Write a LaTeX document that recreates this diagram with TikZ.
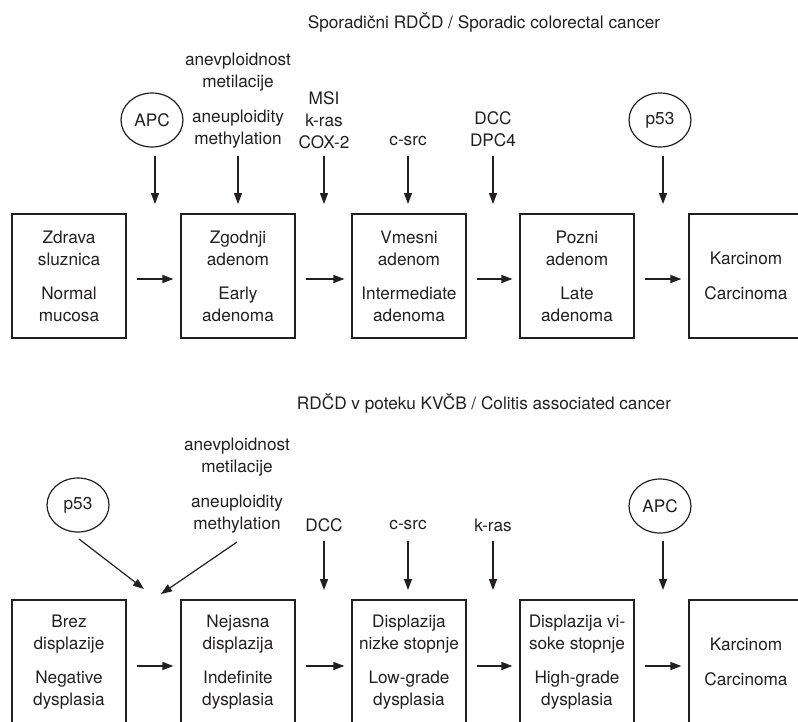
\documentclass[tikz,border=0pt]{standalone}
\usepackage{fontspec}
\setmainfont{TeX Gyre Heros}
\usetikzlibrary{shapes.geometric,arrows.meta}
\definecolor{ink}{HTML}{231F20}
\begin{document}
\begin{tikzpicture}[x=1pt,y=-1pt,
 every node/.style={font=\fontsize{17.2}{22}\selectfont, text=ink},
 stage/.style={draw=ink, line width=1.2pt, minimum width=114pt, minimum height=124pt, align=center, inner sep=0pt},
 gene/.style={draw=ink, ellipse, line width=1.2pt, minimum width=62pt, minimum height=54pt, inner sep=0pt},
 lbl/.style={align=center, inner sep=0pt},
 arr/.style={draw=ink, -{Triangle[length=11pt,width=8pt]}, line width=1.2pt}]
\fill[white] (0,0) rectangle (798,721);
\clip (0,0) rectangle (798,721);
% ---------- top: sporadic ----------
\node[lbl] (title1) at (484,22) {Sporadični RDČD / Sporadic colorectal cancer};
\node[stage] (a1) at (69,276) {Zdrava\\sluznica\\[12pt]Normal\\mucosa};
\node[stage] (a2) at (238,276) {Zgodnji\\adenom\\[12pt]Early\\adenoma};
\node[stage] (a3) at (409,276) {Vmesni\\adenom\\[12pt]Intermediate\\adenoma};
\node[stage] (a4) at (577,276) {Pozni\\adenom\\[12pt]Late\\adenoma};
\node[stage] (a5) at (746,276) {Karcinom\\[13pt]Carcinoma};
\node[gene] (apc1) at (152,120) {APC};
\node[lbl] (meth1) at (238,101) {anevploidnost\\metilacije\\[13pt]aneuploidity\\methylation};
\node[lbl] (msi) at (324,120) {MSI\\k-ras\\COX-2};
\node[lbl] (csrc1) at (408,141) {c-src};
\node[lbl] (dcc1) at (493,129) {DCC\\DPC4};
\node[gene] (p531) at (660,120) {p53};
\foreach \n/\x in {1/155,2/238,3/324,4/408,5/493,6/663}{
  \coordinate (us\n) at (\x,156);
  \coordinate (ut\n) at (\x,204);
  \draw[arr] (us\n) -- (ut\n);
}
\foreach \i/\j in {1/2,2/3,3/4,4/5}{
  \draw[arr] ([xshift=10pt,yshift=-3pt]a\i.east) -- ([xshift=-7pt,yshift=-3pt]a\j.west);
}
% ---------- bottom: colitis ----------
\node[lbl] (title2) at (484,403) {RDČD v poteku KVČB / Colitis associated cancer};
\node[stage] (b1) at (69,662) {Brez\\displazije\\[12pt]Negative\\dysplasia};
\node[stage] (b2) at (238,662) {Nejasna\\displazija\\[12pt]Indefinite\\dysplasia};
\node[stage] (b3) at (409,662) {Displazija\\nizke stopnje\\[12pt]Low-grade\\dysplasia};
\node[stage] (b4) at (577,662) {Displazija vi-\\soke stopnje\\[12pt]High-grade\\dysplasia};
\node[stage] (b5) at (746,662) {Karcinom\\[13pt]Carcinoma};
\node[gene] (p532) at (78,505) {p53};
\node[lbl] (meth2) at (237,486) {anevploidnost\\metilacije\\[13pt]aneuploidity\\methylation};
\node[lbl] (dcc2) at (324,525) {DCC};
\node[lbl] (csrc2) at (408,525) {c-src};
\node[lbl] (kras2) at (493,525) {k-ras};
\node[gene] (apc2) at (660,506) {APC};
\foreach \n/\x in {1/324,2/408,3/493,4/663}{
  \coordinate (ls\n) at (\x,541);
  \coordinate (lt\n) at (\x,590);
  \draw[arr] (ls\n) -- (lt\n);
}
\coordinate (d1s) at (79,539);
\coordinate (d1t) at (144,589);
\coordinate (d2s) at (237,542);
\coordinate (d2t) at (161,594);
\draw[arr] (d1s) -- (d1t);
\draw[arr] (d2s) -- (d2t);
\foreach \i/\j in {1/2,2/3,3/4,4/5}{
  \draw[arr] ([xshift=10pt,yshift=-4pt]b\i.east) -- ([xshift=-7pt,yshift=-4pt]b\j.west);
}
\end{tikzpicture}
\end{document}
